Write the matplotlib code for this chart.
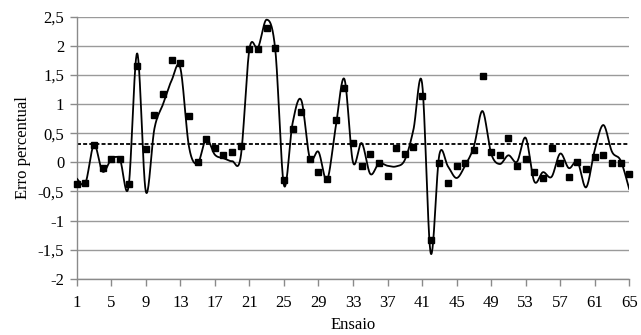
import numpy as np
import matplotlib
matplotlib.use("Agg")
import matplotlib.pyplot as plt
from matplotlib.ticker import FuncFormatter

plt.rcParams['font.family'] = ['Liberation Serif', 'DejaVu Serif']

ensaio = list(range(1, 66))

# measured error (square markers)
erro = [-0.38, -0.36, 0.30, -0.09, 0.05, 0.05, -0.38, 1.66, 0.22, 0.81,
        1.17, 1.76, 1.70, 0.80, 0.01, 0.40, 0.24, 0.13, 0.17, 0.28,
        1.94, 1.94, 2.31, 1.97, -0.30, 0.58, 0.86, 0.06, -0.17, -0.29,
        0.72, 1.28, 0.33, -0.06, 0.14, -0.01, -0.23, 0.25, 0.14, 0.26,
        1.14, -1.34, -0.02, -0.35, -0.07, -0.01, 0.21, 1.49, 0.18, 0.13,
        0.42, -0.06, 0.05, -0.17, -0.27, 0.25, -0.01, -0.26, 0.00, -0.12,
        0.09, 0.12, -0.02, -0.02, -0.20]

# smoothed curve series
curva = [-0.28, -0.36, 0.30, -0.16, 0.05, 0.05, -0.42, 1.87, -0.50, 0.58,
         1.00, 1.41, 1.62, 0.27, -0.02, 0.40, 0.13, 0.07, 0.02, 0.10,
         1.94, 1.97, 2.45, 1.93, -0.39, 0.67, 1.07, 0.07, 0.18, -0.30,
         0.61, 1.43, 0.00, 0.33, -0.20, -0.02, -0.06, -0.07, 0.04, 0.56,
         1.36, -1.56, 0.13, -0.07, -0.27, -0.05, 0.27, 0.88, 0.15, -0.03,
         0.12, 0.01, 0.42, -0.33, -0.17, -0.25, 0.15, -0.10, 0.01, -0.43,
         0.21, 0.64, 0.18, 0.03, -0.46]

limite = 0.31


def smooth(x, y, n=30):
    # bezier smoothing like excel's "smoothed line"
    x = np.asarray(x, float)
    y = np.asarray(y, float)
    px = np.concatenate([[x[0]], x, [x[-1]]])
    py = np.concatenate([[y[0]], y, [y[-1]]])
    t = np.linspace(0, 1, n)[:, None]
    xs, ys = [], []
    for i in range(1, len(px) - 2):
        p0 = np.array([px[i], py[i]])
        p3 = np.array([px[i + 1], py[i + 1]])
        p1 = p0 + (p3 - np.array([px[i - 1], py[i - 1]])) / 6
        p2 = p3 - (np.array([px[i + 2], py[i + 2]]) - p0) / 6
        b = ((1 - t) ** 3 * p0 + 3 * (1 - t) ** 2 * t * p1
             + 3 * (1 - t) * t ** 2 * p2 + t ** 3 * p3)
        xs.append(b[:, 0])
        ys.append(b[:, 1])
    return np.concatenate(xs), np.concatenate(ys)


fig = plt.figure(figsize=(6.41, 3.35), dpi=100)
ax = fig.add_axes([0.1197, 0.168, 0.862, 0.782])

sx, sy = smooth(ensaio, curva)
ax.plot(sx, sy, color='black', lw=1.3, zorder=3)
ax.plot(ensaio, erro, 's', color='black', ms=5, zorder=4, clip_on=False)
ax.axhline(limite, color='black', lw=1.3, ls=(0, (2.2, 1.2)), zorder=2)

ax.set_xlim(1, 65)
ax.set_ylim(-2, 2.5)
ax.set_xticks(range(1, 66, 4))
ax.set_yticks(np.arange(-2, 2.51, 0.5))
ax.yaxis.set_major_formatter(FuncFormatter(
    lambda v, p: ('%g' % v).replace('.', ',')))
ax.grid(axis='y', color='#9a9a9a', lw=1)
ax.set_axisbelow(True)

for s in ['top', 'right']:
    ax.spines[s].set_visible(False)
for s in ['left', 'bottom']:
    ax.spines[s].set_color('#8a8a8a')
    ax.spines[s].set_linewidth(1)
ax.tick_params(axis='both', colors='#8a8a8a', length=5, width=1,
               labelcolor='black', labelsize=12)
ax.tick_params(axis='x', pad=7)
ax.tick_params(axis='y', pad=4)

ax.set_xlabel('Ensaio', fontsize=12, labelpad=4)
ax.set_ylabel('Erro percentual', fontsize=12, labelpad=5)

fig.savefig('out.png', dpi=100)
